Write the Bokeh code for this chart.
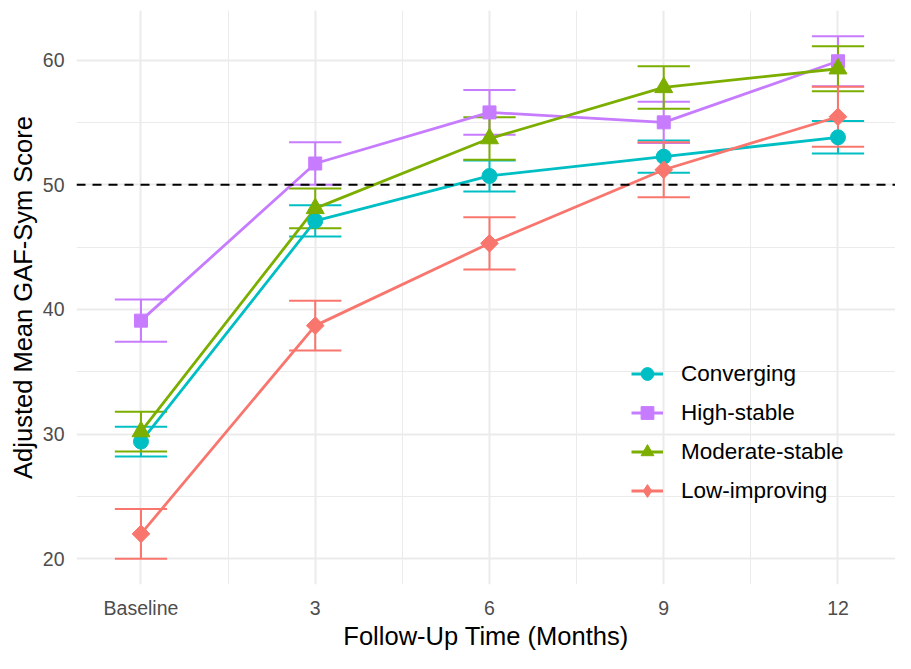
from bokeh.plotting import figure
from bokeh.models import (ColumnDataSource, FixedTicker, Legend, LegendItem, Span, Range1d)
from bokeh.embed import file_html
from bokeh.resources import INLINE
import numpy as np

# ---- data ----
months = [0, 3, 6, 9, 12]
x_tick_labels = ["Baseline", "3", "6", "9", "12"]
y_ticks = [20, 30, 40, 50, 60]

groups = ["Converging", "High-stable", "Moderate-stable", "Low-improving"]
converging_mean = [29.4, 47.1, 50.7, 52.25, 53.8]
converging_se = [1.2, 1.25, 1.25, 1.3, 1.3]
high_mean = [39.1, 51.7, 55.8, 55.0, 59.9]
high_se = [1.7, 1.7, 1.8, 1.65, 2.0]
moderate_mean = [30.2, 48.1, 53.7, 57.8, 59.3]
moderate_se = [1.6, 1.6, 1.7, 1.7, 1.8]
low_mean = [22.0, 38.7, 45.3, 51.2, 55.45]
low_se = [2.0, 2.0, 2.1, 2.2, 2.4]
reference_line = 50

colors = {"Converging": "#00BFC4", "High-stable": "#C77CFF",
          "Moderate-stable": "#7CAE00", "Low-improving": "#F8766D"}
markers = {"Converging": ("circle", 15, 0.0),
           "High-stable": ("square", 13, 0.0),
           "Moderate-stable": ("triangle", 18, 0.0),
           "Low-improving": ("square", 12.5, np.pi / 4)}
legend_markers = {"Converging": "circle", "High-stable": "square",
                  "Moderate-stable": "triangle", "Low-improving": "diamond"}
series = {"Converging": (converging_mean, converging_se),
          "High-stable": (high_mean, high_se),
          "Moderate-stable": (moderate_mean, moderate_se),
          "Low-improving": (low_mean, low_se)}

FONT = "Liberation Sans"
cap_half = 0.45

p = figure(width=895, height=653, output_backend="svg", toolbar_location=None,
           x_range=Range1d(-1.11, 12.99), y_range=Range1d(17.94, 63.97),
           min_border_left=76, min_border_right=0, min_border_top=10, min_border_bottom=69,
           background_fill_color="white", border_fill_color="white")
p.outline_line_color = None

# grid
p.xaxis.ticker = FixedTicker(ticks=months, minor_ticks=[1.5, 4.5, 7.5, 10.5])
p.yaxis.ticker = FixedTicker(ticks=y_ticks, minor_ticks=[25, 35, 45, 55])
for g in (p.xgrid, p.ygrid):
    g.grid_line_color = "#EBEBEB"
    g.grid_line_width = 2
    g.minor_grid_line_color = "#EBEBEB"
    g.minor_grid_line_width = 1

# axes
p.xaxis.major_label_overrides = {m: lab for m, lab in zip(months, x_tick_labels)}
for ax in (p.xaxis, p.yaxis):
    ax.axis_line_color = None
    ax.major_tick_line_color = None
    ax.minor_tick_line_color = None
    ax.major_tick_out = 0
    ax.major_tick_in = 0
    ax.minor_tick_out = 0
    ax.minor_tick_in = 0
    ax.major_label_text_font = FONT
    ax.major_label_text_font_size = "19.5px"
    ax.major_label_text_color = "#4D4D4D"
    ax.axis_label_text_font = FONT
    ax.axis_label_text_font_size = "25.5px"
    ax.axis_label_text_font_style = "normal"
    ax.axis_label_text_color = "black"
p.xaxis.axis_label = "Follow-Up Time (Months)"
p.yaxis.axis_label = "Adjusted Mean GAF-Sym Score"
p.xaxis.major_label_standoff = 12
p.xaxis.axis_label_standoff = 0
p.yaxis.major_label_standoff = 12
p.yaxis.axis_label_standoff = 3

# reference line
p.add_layout(Span(location=reference_line, dimension="width", line_color="black",
                  line_width=2, line_dash="9 7"))

sources = {}
for gname in groups:
    mean, se = series[gname]
    mean = np.array(mean); se = np.array(se); x = np.array(months, dtype=float)
    sources[gname] = ColumnDataSource(dict(x=x, y=mean, lo=mean - se, hi=mean + se,
                                           xl=x - cap_half, xr=x + cap_half))

# error bars
for gname in groups:
    s = sources[gname]; c = colors[gname]
    p.segment(x0="x", y0="lo", x1="x", y1="hi", source=s, line_color=c, line_width=2)
    p.segment(x0="xl", y0="lo", x1="xr", y1="lo", source=s, line_color=c, line_width=2)
    p.segment(x0="xl", y0="hi", x1="xr", y1="hi", source=s, line_color=c, line_width=2)

lines = {}
for gname in groups:
    lines[gname] = p.line("x", "y", source=sources[gname], line_color=colors[gname], line_width=2.8)

pts = {}
for gname in groups:
    mk, sz, ang = markers[gname]
    pts[gname] = p.scatter("x", "y", source=sources[gname], marker=mk, size=sz, angle=ang,
                           fill_color=colors[gname], line_color=colors[gname])

# legend-only marker renderers (not visible in plot area)
leg_pts = {}
for gname in groups:
    leg_pts[gname] = p.scatter(x=[np.nan], y=[np.nan], marker=legend_markers[gname],
                               fill_color=colors[gname], line_color=colors[gname])

items = [LegendItem(label=g, renderers=[lines[g], leg_pts[g]], index=0) for g in groups]
legend = Legend(items=items, location=(555, 74), padding=0, margin=0, spacing=0,
                glyph_width=32, glyph_height=39, label_height=39, label_standoff=18,
                label_text_font=FONT, label_text_font_size="22.5px", label_text_color="black",
                border_line_color=None, background_fill_alpha=0)
p.add_layout(legend)

open("out.html", "w").write(file_html(p, INLINE))
